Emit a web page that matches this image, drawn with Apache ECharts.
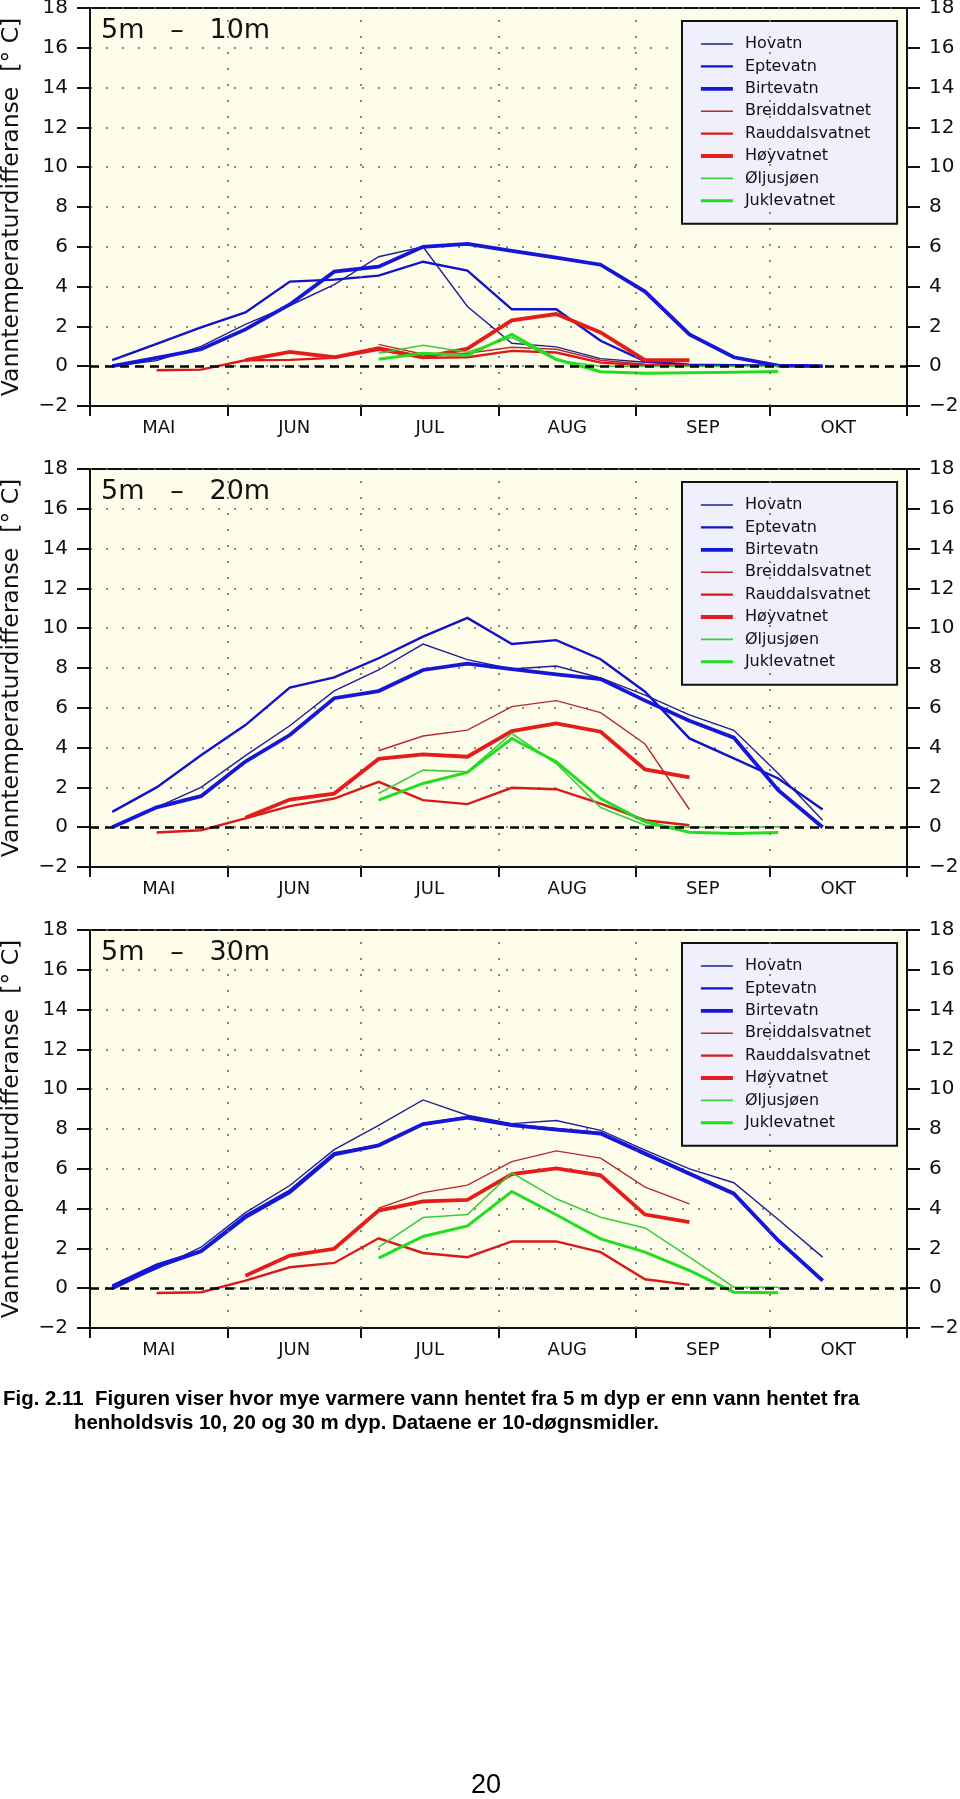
<!DOCTYPE html>
<html><head><meta charset="utf-8">
<script src="https://cdn.jsdelivr.net/npm/echarts@6/dist/echarts.min.js"></script>
<style>html,body{margin:0;padding:0;background:#fff}#c{width:960px;height:1799px}</style>
</head><body><div id="c"></div>
<script>
// ---- data ----
const days = [5,15,25,35,45,55,65,75,85,95,105,115,125,135,145,155,165]; // centre day (from 1 May) of each 10-day mean
const monthStarts = [0,31,61,92,123,153,184];
const monthMids = [15.5,46,76.5,107.5,138,168.5];
const monthNames = ['MAI','JUN','JUL','AUG','SEP','OKT'];
const lakes = ['Hovatn','Eptevatn','Birtevatn','Breiddalsvatnet','Rauddalsvatnet','Høyvatnet','Øljusjøen','Juklevatnet'];
const panelTitles = ['5m   –   10m','5m   –   20m','5m   –   30m'];
const yTitle = 'Vanntemperaturdifferanse  [° C]';
const caption1 = 'Fig. 2.11  Figuren viser hvor mye varmere vann hentet fra 5 m dyp er enn vann hentet fra';
const caption2 = 'henholdsvis 10, 20 og 30 m dyp. Dataene er 10-døgnsmidler.';
const pageNumber = '20';

// 5m - 10m
const hovatn10    = [0.0,0.28,1.0,2.1,3.05,4.1,5.5,6.0,3.0,1.15,0.97,0.38,0.2,0.08,0.05,0.04,0.0];
const eptevatn10  = [0.3,1.12,1.95,2.7,4.25,4.35,4.55,5.25,4.8,2.86,2.86,1.28,0.25,0.08,0.05,0.03,0.0];
const birtevatn10 = [0.0,0.42,0.85,1.85,3.1,4.75,5.0,6.0,6.15,5.8,5.45,5.1,3.75,1.6,0.45,0.03,0.0];
const breiddal10  = [null,null,null,null,null,null,1.1,0.6,0.65,0.95,0.85,0.3,0.1,0.05,null,null,null];
const rauddal10   = [null,-0.2,-0.17,0.3,0.32,0.42,0.82,0.42,0.45,0.77,0.69,0.18,0.05,0.03,null,null,null];
const hoyvatn10   = [null,null,null,0.3,0.72,0.45,0.9,0.45,0.88,2.3,2.62,1.7,0.3,0.3,null,null,null];
const oljusjoen10 = [null,null,null,null,null,null,0.65,1.05,0.7,1.45,0.3,0.0,0.0,0.0,0.0,0.0,null];
const juklevatn10 = [null,null,null,null,null,null,0.35,0.65,0.55,1.6,0.35,-0.28,-0.35,-0.33,-0.3,-0.27,null];

// 5m - 20m
const hovatn20    = [0.0,1.0,2.0,3.6,5.1,6.85,7.9,9.2,8.42,7.95,8.1,7.5,6.64,5.64,4.87,2.7,0.35];
const eptevatn20  = [0.77,2.0,3.62,5.13,7.01,7.53,8.49,9.58,10.52,9.21,9.4,8.44,6.81,4.46,3.46,2.45,0.89];
const birtevatn20 = [0.0,1.0,1.56,3.3,4.63,6.48,6.84,7.9,8.22,7.94,7.68,7.44,6.36,5.35,4.5,1.86,0.0];
const breiddal20  = [null,null,null,null,null,null,3.84,4.58,4.88,6.06,6.36,5.76,4.18,0.89,null,null,null];
const rauddal20   = [null,-0.27,-0.15,0.44,1.06,1.44,2.28,1.36,1.16,1.98,1.91,1.19,0.35,0.1,null,null,null];
const hoyvatn20   = [null,null,null,0.47,1.39,1.69,3.43,3.66,3.54,4.83,5.22,4.8,2.9,2.5,null,null,null];
const oljusjoen20 = [null,null,null,null,null,null,1.69,2.87,2.79,4.71,3.2,0.99,0.1,0.0,0.0,0.02,null];
const juklevatn20 = [null,null,null,null,null,null,1.36,2.2,2.75,4.46,3.29,1.44,0.27,-0.25,-0.32,-0.27,null];

// 5m - 30m
const hovatn30    = [0.08,0.97,2.06,3.8,5.16,6.96,8.18,9.46,8.69,8.27,8.43,7.93,6.94,6.0,5.3,3.45,1.56];
const eptevatn30  = [0.13,1.19,1.89,3.65,4.91,6.79,7.18,8.24,8.6,8.22,8.0,7.8,6.8,5.78,4.78,2.42,0.4];
const birtevatn30 = [0.0,1.08,1.86,3.57,4.83,6.72,7.18,8.25,8.57,8.2,7.97,7.77,6.76,5.75,4.75,2.4,0.38];
const breiddal30  = [null,null,null,null,null,null,4.02,4.8,5.18,6.36,6.9,6.54,5.08,4.24,null,null,null];
const rauddal30   = [null,-0.24,-0.2,0.38,1.05,1.27,2.51,1.77,1.56,2.35,2.35,1.81,0.45,0.17,null,null,null];
const hoyvatn30   = [null,null,null,0.63,1.64,1.98,3.9,4.36,4.44,5.73,6.02,5.67,3.7,3.32,null,null,null];
const oljusjoen30 = [null,null,null,null,null,null,2.06,3.55,3.7,5.8,4.49,3.57,3.03,1.56,0.05,0.05,null];
const juklevatn30 = [null,null,null,null,null,null,1.51,2.6,3.13,4.86,3.69,2.48,1.81,0.89,-0.2,-0.23,null];

const panels = [
  [hovatn10,eptevatn10,birtevatn10,breiddal10,rauddal10,hoyvatn10,oljusjoen10,juklevatn10],
  [hovatn20,eptevatn20,birtevatn20,breiddal20,rauddal20,hoyvatn20,oljusjoen20,juklevatn20],
  [hovatn30,eptevatn30,birtevatn30,breiddal30,rauddal30,hoyvatn30,oljusjoen30,juklevatn30]
];

// ---- styles ----
const lakeColors = ['#1e1e98','#1212c8','#1616d8','#b82a2a','#d81a1a','#e41c1c','#3ccc3c','#22dd22'];
const lakeWidths = [1.4,2.4,3.8,1.4,2.4,3.8,1.6,3.0];
const tops = [8,469,930];
const plotH = 398;
const FONT = 'DejaVu Sans';

const chart = echarts.init(document.getElementById('c'), null, {renderer:'canvas'});

const grid = [], xAxis = [], yAxis = [], series = [], title = [], legend = [];
tops.forEach((t, i) => {
  grid.push({left:90, width:817, top:t, height:plotH, show:true, outerBoundsMode:'none', containLabel:false,
    backgroundColor:'#fefde9', borderColor:'#111', borderWidth:2});
  xAxis.push({type:'value', gridIndex:i, min:monthStarts[0], max:monthStarts[monthStarts.length-1],
    axisLine:{show:true, onZero:false, lineStyle:{color:'#111', width:2}},
    axisTick:{show:true, customValues:monthStarts, length:10, lineStyle:{color:'#111', width:2}},
    axisLabel:{customValues:monthMids, formatter:v => monthNames[monthMids.indexOf(v)], margin:13, color:'#111', fontSize:18, fontFamily:FONT},
    splitLine:{show:false}});
  const yBase = {type:'value', gridIndex:i, min:-2, max:18, interval:2,
    axisLine:{show:true, onZero:false, lineStyle:{color:'#111', width:2}},
    axisTick:{show:true, length:13, lineStyle:{color:'#111', width:2}},
    axisLabel:{margin:22, color:'#111', fontSize:20, fontFamily:FONT, formatter:v => v < 0 ? '\u2212' + (-v) : String(v)}};
  yAxis.push(Object.assign({}, yBase, {position:'left', name:yTitle, nameLocation:'middle', nameGap:66,
    nameTextStyle:{fontSize:23.5, fontFamily:FONT, color:'#111'},
    splitLine:{show:true, lineStyle:{color:'#666', width:1.6, type:[2,14]}}}));
  yAxis.push(Object.assign({}, yBase, {position:'right', splitLine:{show:false}}));
  title.push({text:panelTitles[i], left:101, top:t+9, padding:0,
    textStyle:{fontSize:27, fontWeight:'normal', fontFamily:FONT, color:'#111'}});
  legend.push({orient:'vertical', left:682, top:t+13, selectedMode:false,
    data: lakes.map((n, k) => ({name:n, lineStyle:{width:lakeWidths[k], color:lakeColors[k]}})),
    itemWidth:32, itemHeight:14, itemGap:6.4, padding:[15,26,15,17],
    backgroundColor:'#eff0fb', borderColor:'#111', borderWidth:2,
    itemStyle:{opacity:0},
    textStyle:{fontSize:16, lineHeight:16, fontFamily:FONT, color:'#111', padding:[0,0,0,7]}});
  panels[i].forEach((vals, k) => {
    const s = {type:'line', name:lakes[k], xAxisIndex:i, yAxisIndex:i*2,
      data: days.map((d, j) => vals[j] == null ? null : [d, vals[j]]).filter(p => p),
      symbol:'none', showSymbol:false, animation:false, silent:true,
      lineStyle:{color:lakeColors[k], width:lakeWidths[k], join:'miter'}, itemStyle:{color:lakeColors[k]}};
    if (k === 0) {
      s.markLine = {silent:true, symbol:['none','none'], label:{show:false}, animation:false,
        data: [{yAxis:0, lineStyle:{color:'#000', width:2.6, type:[9,6]}}].concat(
          monthStarts.slice(1, -1).map(m => ({xAxis:m, lineStyle:{color:'#666', width:1.6, type:[2,14]}})))};
    }
    series.push(s);
  });
});

chart.setOption({
  animation:false,
  textStyle:{fontFamily:FONT},
  grid, xAxis, yAxis, series, title, legend,
  graphic:[
    {type:'text', left:3, top:1389, style:{text:caption1, font:'bold 20.45px "Liberation Sans"', fill:'#000'}},
    {type:'text', left:74, top:1413, style:{text:caption2, font:'bold 20.45px "Liberation Sans"', fill:'#000'}},
    {type:'text', left:471, top:1772, style:{text:pageNumber, font:'27px "Liberation Sans"', fill:'#000'}}
  ]
});
</script></body></html>
